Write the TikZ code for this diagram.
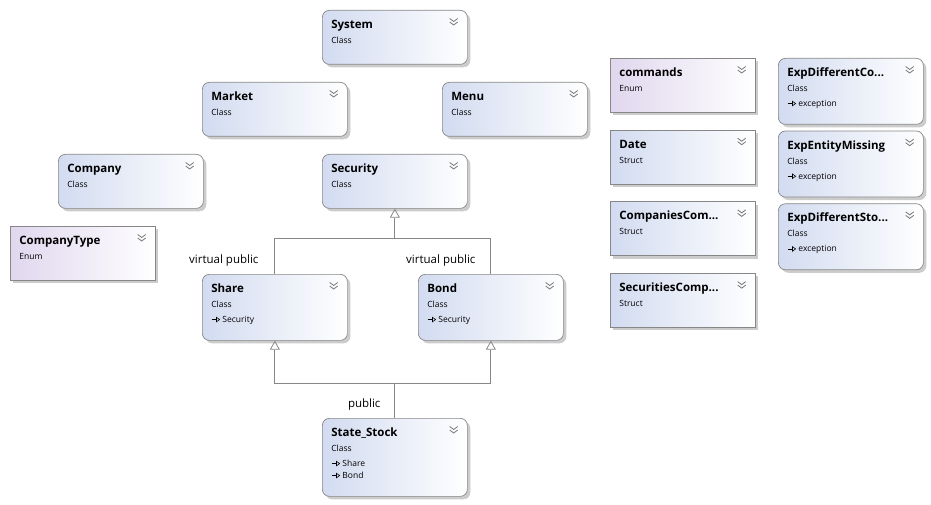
\documentclass[tikz,border=0pt]{standalone}
\usepackage{fontspec}
\setmainfont{Open Sans}
\usetikzlibrary{arrows.meta, positioning, shadows}
\definecolor{classblue}{RGB}{210,219,240}
\definecolor{enumlilac}{RGB}{224,215,238}
\definecolor{edgegray}{RGB}{135,135,135}
\definecolor{chevgray}{RGB}{120,120,120}

\newcommand{\titlefont}{\fontsize{11.5}{15}\selectfont\bfseries}
\newcommand{\kindfont}{\fontsize{8.5}{15}\selectfont}
% small inheritance mark in front of a base class
\newcommand{\inh}{\tikz[baseline=-2.8pt]\draw[line width=.6pt,-{Triangle[open,length=4pt,width=5.5pt]}] (0,0) -- (8.5pt,0);\hspace{2pt}}
\newcommand{\member}[2][15]{{\fontsize{8.5}{#1}\selectfont\rule{0pt}{8pt}\inh #2\par}}
% box body: height, title, kind, members
\newcommand{\umltext}[4]{\vbox to #1pt{\hsize=145pt\leftskip=9pt\parindent=0pt\parskip=0pt
  \vskip 8pt
  {\titlefont\rule{0pt}{10pt}#2\par}
  {\kindfont\rule{0pt}{8pt}#3\par}
  #4
  \vss}}

\begin{document}
\begin{tikzpicture}[
    x=1pt, y=-1pt,
    classbox/.style={draw=edgegray, line width=0.7pt, rounded corners=7pt, left color=classblue, right color=white, inner sep=0pt, anchor=north west,
      drop shadow={shadow xshift=3pt, shadow yshift=-3pt, fill=black!40, opacity=.5}},
    structbox/.style={classbox, sharp corners},
    enumbox/.style={structbox, left color=enumlilac},
    gen/.style={draw=edgegray, line width=0.8pt, -{Triangle[open, length=9pt, width=10pt]}},
    link/.style={draw=edgegray, line width=0.8pt},
    lbl/.style={inner sep=0pt, font=\fontsize{11.5}{14}\selectfont},
    chevron/.style={draw=chevgray, line width=0.8pt}
]
    \useasboundingbox (0,0) rectangle (931,505);

    % classes
    \node[classbox] (system) at (322,10) {\umltext{54}{System}{Class}{}};
    \node[classbox] (market) at (202,82) {\umltext{54}{Market}{Class}{}};
    \node[classbox] (menu) at (442,82) {\umltext{54}{Menu}{Class}{}};
    \node[classbox] (company) at (58,154) {\umltext{54}{Company}{Class}{}};
    \node[classbox] (security) at (322,154) {\umltext{54}{Security}{Class}{}};
    \node[enumbox] (companytype) at (10,226) {\umltext{54}{CompanyType}{Enum}{}};
    \node[classbox] (share) at (202,274) {\umltext{66}{Share}{Class}{\member{Security}}};
    \node[classbox] (bond) at (418,274) {\umltext{66}{Bond}{Class}{\member{Security}}};
    \node[classbox] (stock) at (322,418) {\umltext{78}{State\_Stock}{Class}{\member{Share}\member[12]{Bond}}};

    % enums and structs
    \node[enumbox] (commands) at (610,58) {\umltext{54}{commands}{Enum}{}};
    \node[structbox, below=17pt of commands] (date) {\umltext{54}{Date}{Struct}{}};
    \node[structbox, below=17pt of date] (companiescmp) {\umltext{54}{CompaniesCom...}{Struct}{}};
    \node[structbox, below=17pt of companiescmp] (securitiescmp) {\umltext{54}{SecuritiesComp...}{Struct}{}};

    % exceptions
    \node[classbox] (expcompany) at (778,58) {\umltext{66}{ExpDifferentCo...}{Class}{\member{exception}}};
    \node[classbox, below=6pt of expcompany] (expmissing) {\umltext{66}{ExpEntityMissing}{Class}{\member{exception}}};
    \node[classbox, below=6pt of expmissing] (expstock) {\umltext{66}{ExpDifferentSto...}{Class}{\member{exception}}};

    % collapse marks
    \foreach \n in {system, market, menu, company, security, companytype, share, bond, stock,
                    commands, date, companiescmp, securitiescmp, expcompany, expmissing, expstock}
      \draw[chevron] ([xshift=-18pt, yshift=-8.5pt]\n.north east) -- ++(4pt,-3pt) -- ++(4pt,3pt)
                     ++(-8pt,-3.5pt) -- ++(4pt,-3pt) -- ++(4pt,3pt);

    % inheritance
    \coordinate (secjoin) at ([yshift=-30pt]security.south);
    \coordinate (stockjoin) at ([yshift=35pt]stock.north);
    \draw[gen] (share.north) node[lbl, anchor=base east, xshift=-16pt, yshift=11pt] {virtual public} |- (secjoin) -- (security.south);
    \draw[link] (bond.north) node[lbl, anchor=base east, xshift=-15pt, yshift=11pt] {virtual public} |- (secjoin);
    \draw[gen] (stock.north) node[lbl, anchor=base east, xshift=-14pt, yshift=11pt] {public} -- (stockjoin) -| (share.south);
    \draw[gen] (stockjoin) -| (bond.south);

\end{tikzpicture}
\end{document}
